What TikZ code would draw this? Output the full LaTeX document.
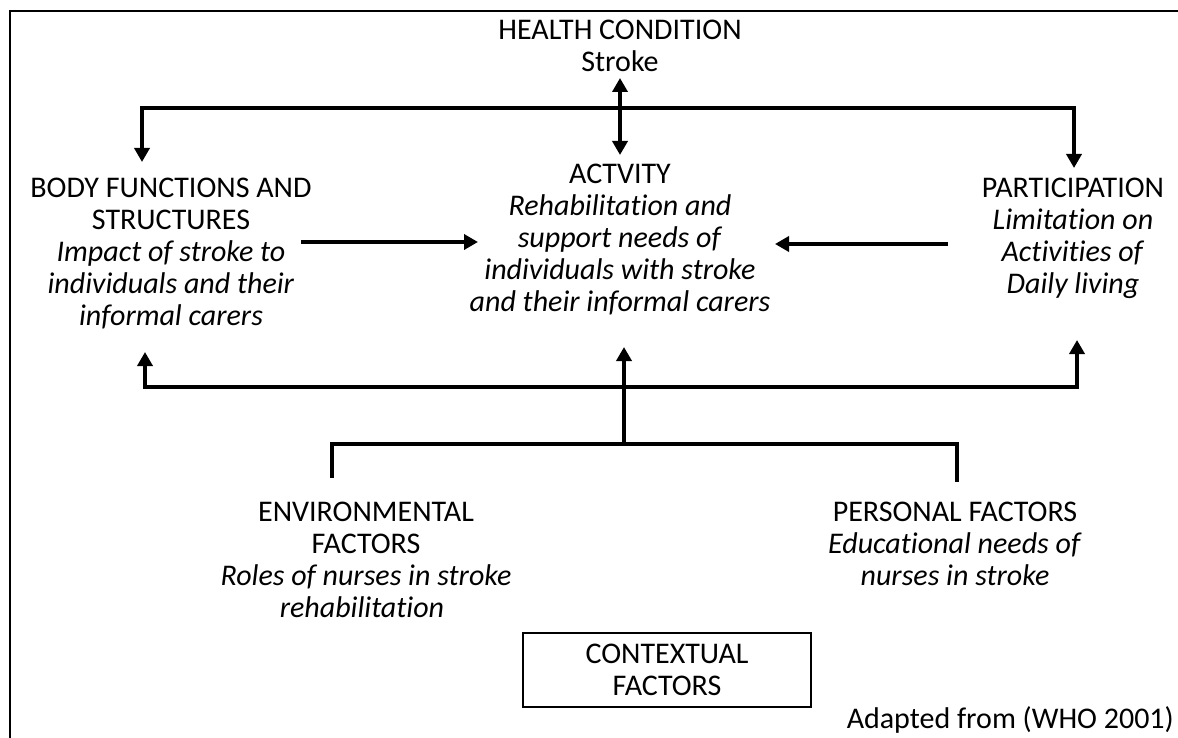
\documentclass[tikz,border=0pt]{standalone}
\usepackage{fontspec}
\setmainfont{Carlito}[Ligatures={NoCommon}]
\usetikzlibrary{arrows.meta}
\begin{document}
\begin{tikzpicture}[x=1pt,y=-1pt,
  txt/.style={align=center,inner sep=0pt,font=\fontsize{30}{32}\selectfont},
  conn/.style={line width=3.6pt,line join=miter,-{Triangle[length=14pt,width=15pt]}},
  conn2/.style={line width=3.6pt,line join=miter,{Triangle[length=14pt,width=15pt]}-{Triangle[length=14pt,width=15pt]}},
  bar/.style={line width=3.6pt,line join=miter},
  frame/.style={line width=2.4pt}]
\useasboundingbox (0,0) rectangle (1178,738);
% outer frame (top and left edges)
\coordinate (fbl) at (10,738);
\coordinate (ftl) at (10,11);
\coordinate (ftr) at (1178,11);
\draw[frame] (fbl) -- (ftl) -- (ftr);

% text blocks
\node[txt] (hc) at (620,46) {HEALTH CONDITION\\Stroke};
\node[txt] (act) at (620,240) {ACTVITY\\\textit{Rehabilitation and}\\\textit{support needs of}\\\textit{individuals with stroke}\\\textit{and their informal carers}};
\node[txt] (body) at (171,254) {BODY FUNCTIONS AND\\STRUCTURES\\\textit{Impact of stroke to}\\\textit{individuals and their}\\\textit{informal carers}};
\node[txt] (part) at (1073,238) {PARTICIPATION\\\textit{Limitation on}\\\textit{Activities of}\\\textit{Daily living}};
\node[txt] (env) at (366,560) {ENVIRONMENTAL\\FACTORS\\\textit{Roles of nurses in stroke}\hspace*{14pt}\\\textit{rehabilitation}\hspace*{8pt}};
\node[txt] (pers) at (955,544) {PERSONAL FACTORS\\\textit{Educational needs of}\\\textit{nurses in stroke}};
\node[draw,line width=2.4pt,minimum width=288pt,minimum height=74pt,txt] (ctx) at (667,670) {CONTEXTUAL\\FACTORS};
\node[txt,anchor=east] (src) at (1174,720) {Adapted from (WHO 2001)};

% health condition to the three components
\coordinate (hcUp) at (620,78);
\coordinate (actTop) at (620,155);
\draw[conn2] (hcUp) -- (actTop);
\coordinate (bodyTop) at (142,162);
\coordinate (topL) at (142,108);
\coordinate (topR) at (1074,108);
\coordinate (partTop) at (1074,168);
\draw[conn2] (bodyTop) -- (topL) -- (topR) -- (partTop);

% side arrows into activity
\coordinate (bodyR) at (301,242);
\coordinate (actL) at (478,242);
\draw[conn] (bodyR) -- (actL);
\coordinate (partL) at (948,244);
\coordinate (actR) at (775,244);
\draw[conn] (partL) -- (actR);

% contextual factors feeding back up
\coordinate (bodyBot) at (145,352);
\coordinate (botL) at (145,387);
\coordinate (botR) at (1077,387);
\coordinate (partBot) at (1077,340);
\draw[conn2] (bodyBot) -- (botL) -- (botR) -- (partBot);
\coordinate (ctxMid) at (624,444);
\coordinate (actBot) at (624,347);
\draw[conn] (ctxMid) -- (actBot);

% bracket over environmental and personal factors
\coordinate (envTop) at (332,478);
\coordinate (brL) at (332,444);
\coordinate (brR) at (957,444);
\coordinate (persTop) at (957,482);
\draw[bar] (envTop) -- (brL) -- (brR) -- (persTop);
\end{tikzpicture}
\end{document}
